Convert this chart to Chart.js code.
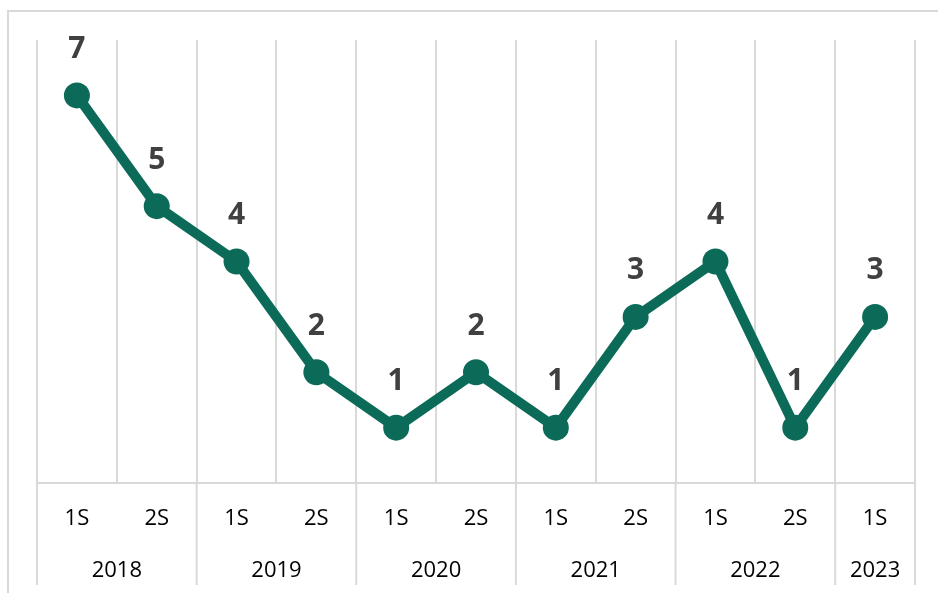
<!DOCTYPE html>
<html>
<head>
<meta charset="utf-8">
<script src="https://cdn.jsdelivr.net/npm/chart.js@4.4.0/dist/chart.umd.min.js"></script>
<style>
  html, body { margin: 0; padding: 0; background: #ffffff; }
  #wrap { width: 938px; height: 593px; position: relative; }
</style>
</head>
<body>
<div id="wrap"><canvas id="lineCanvas" width="938" height="593"></canvas></div>
<script>
// semester labels and values (one per point)
var semesters = ['1S', '2S', '1S', '2S', '1S', '2S', '1S', '2S', '1S', '2S', '1S'];
var values = [7, 5, 4, 2, 1, 2, 1, 3, 4, 1, 3];

// year groups under the semesters
var years = ['2018', '2019', '2020', '2021', '2022', '2023'];
var yearSpans = [2, 2, 2, 2, 2, 1];

var green = '#0b6b58';
var gridGrey = '#d9d9d9';
var fontName = "'Open Sans', 'Liberation Sans', sans-serif";

// draws the frame, the year row and the value labels
var extrasPlugin = {
  id: 'extras',
  beforeDraw: function (chart) {
    var ctx = chart.ctx;
    ctx.save();
    ctx.fillStyle = '#ffffff';
    ctx.fillRect(0, 0, chart.width, chart.height);
    ctx.strokeStyle = gridGrey;
    ctx.lineWidth = 2;
    ctx.beginPath();
    ctx.moveTo(8, chart.height);
    ctx.lineTo(8, 11);
    ctx.lineTo(chart.width, 11);
    ctx.stroke();
    ctx.restore();
  },
  afterDraw: function (chart) {
    var ctx = chart.ctx;
    var x = chart.scales.x;
    var half = (x.getPixelForValue(1) - x.getPixelForValue(0)) / 2;
    var bottom = chart.chartArea.bottom;
    ctx.save();
    ctx.strokeStyle = gridGrey;
    ctx.lineWidth = 2;
    ctx.fillStyle = '#000000';
    ctx.font = '22px ' + fontName;
    ctx.textAlign = 'center';
    ctx.textBaseline = 'middle';
    var start = 0;
    for (var i = 0; i < years.length; i++) {
      var end = start + yearSpans[i] - 1;
      var left = x.getPixelForValue(start) - half;
      var right = x.getPixelForValue(end) + half;
      ctx.beginPath();
      ctx.moveTo(left, bottom);
      ctx.lineTo(left, 585);
      ctx.stroke();
      if (i == years.length - 1) {
        ctx.beginPath();
        ctx.moveTo(right, bottom);
        ctx.lineTo(right, 585);
        ctx.stroke();
      }
      ctx.fillText(years[i], (left + right) / 2, 571);
      start = end + 1;
    }

    // value labels above the points
    var meta = chart.getDatasetMeta(0);
    ctx.fillStyle = '#404040';
    ctx.font = 'bold 30px ' + fontName;
    meta.data.forEach(function (pt, idx) {
      ctx.fillText(String(values[idx]), pt.x, pt.y - 46);
    });
    ctx.restore();
  }
};

var ctx = document.getElementById('lineCanvas').getContext('2d');
var lineChart = new Chart(ctx, {
  type: 'line',
  data: {
    labels: semesters,
    datasets: [{
      data: values,
      borderColor: green,
      backgroundColor: green,
      borderWidth: 10,
      pointRadius: 13,
      pointHoverRadius: 13,
      pointBackgroundColor: green,
      pointBorderWidth: 0,
      tension: 0,
      clip: false
    }]
  },
  options: {
    responsive: false,
    animation: false,
    events: [],
    layout: {
      padding: { left: 37, right: 23, top: 40, bottom: 0 }
    },
    plugins: {
      legend: { display: false },
      tooltip: { enabled: false }
    },
    scales: {
      x: {
        type: 'category',
        offset: true,
        afterFit: function (scale) { scale.height = 110; },
        grid: {
          offset: true,
          color: gridGrey,
          lineWidth: 2,
          drawTicks: false
        },
        border: { display: true, color: gridGrey, width: 2 },
        ticks: {
          color: '#000000',
          padding: 23,
          maxRotation: 0,
          autoSkip: false,
          font: { family: fontName, size: 22 }
        }
      },
      y: {
        display: false,
        min: 0,
        max: 8
      }
    }
  },
  plugins: [extrasPlugin]
});
</script>
</body>
</html>
